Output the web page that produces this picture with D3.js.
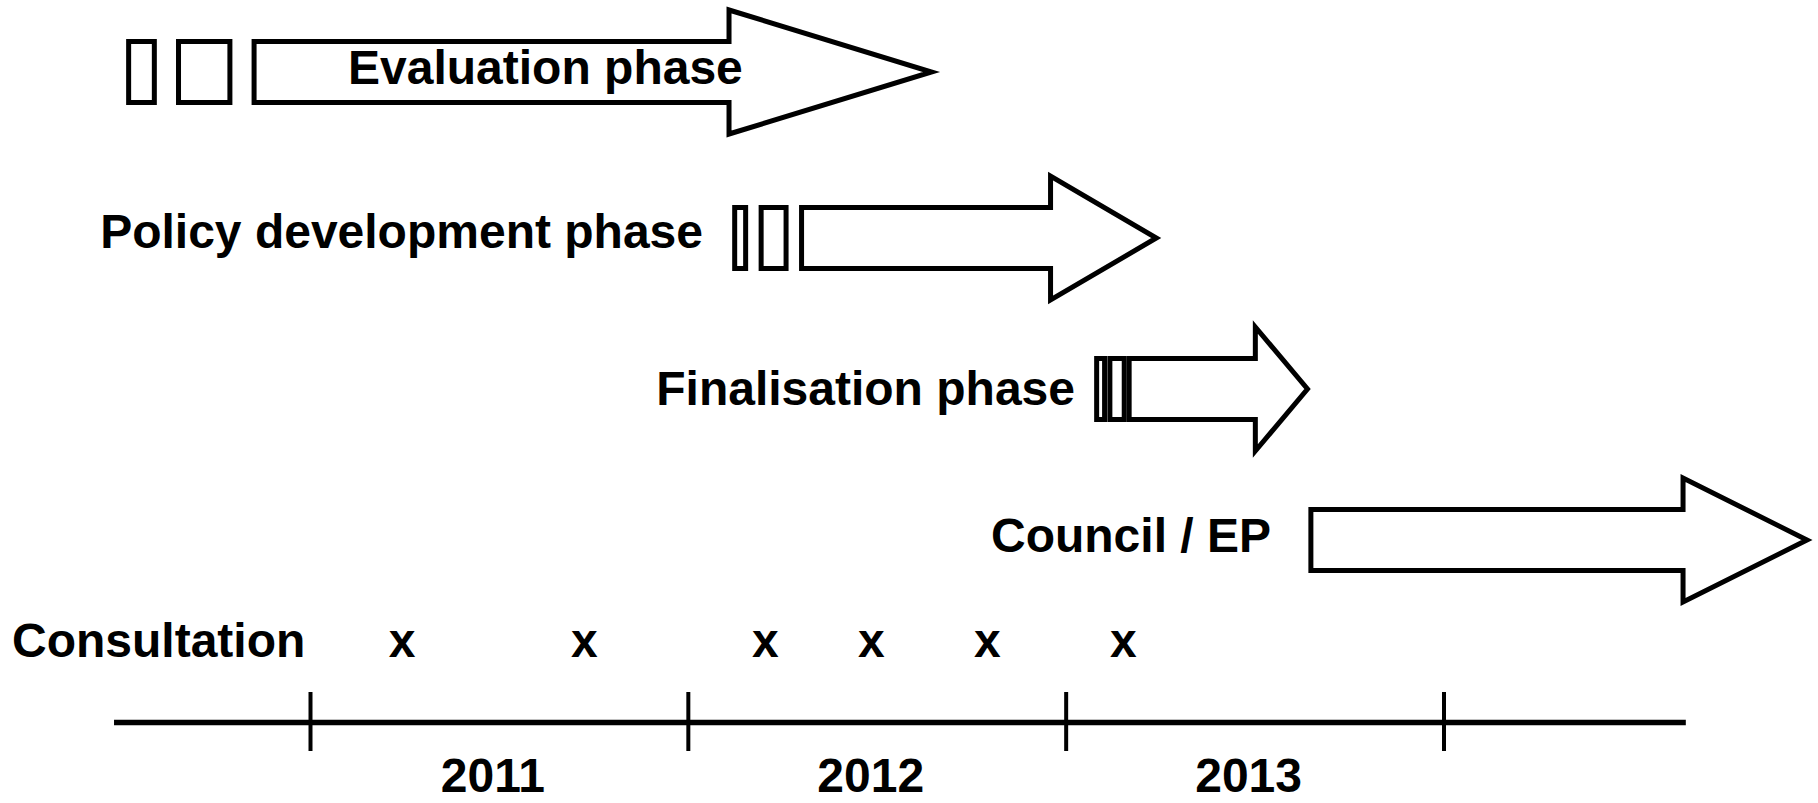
<!DOCTYPE html>
<html>
<head>
<meta charset="utf-8">
<script src="https://cdn.jsdelivr.net/npm/d3@7"></script>
<style>
    body { margin: 0; background: #fff; }
    text { font-family: "Liberation Sans", Arial, sans-serif; font-weight: bold; font-size: 48px; fill: #000; }
</style>
</head>
<body>
<svg id="chart" width="1818" height="803"></svg>
<script>
// phases of the timeline (time in decimal years)
var phaseNames = ["Evaluation phase", "Policy development phase", "Finalisation phase", "Council / EP"];
// small boxes before each arrow: [start, end]
var phaseBoxes = [
    [[2010.52, 2010.588], [2010.652, 2010.788]],
    [[2012.124, 2012.153], [2012.194, 2012.26]],
    [[2013.082, 2013.103], [2013.117, 2013.155]],
    []
];
// arrow: [body start, head base, tip]
var phaseArrows = [
    [2010.852, 2012.109, 2012.645],
    [2012.301, 2012.96, 2013.24],
    [2013.168, 2013.502, 2013.64],
    [2013.649, 2014.634, 2014.962]
];
var consultationDates = [2011.244, 2011.726, 2012.205, 2012.486, 2012.793, 2013.153];
var yearTicks = [2011, 2012, 2013, 2014];
var yearLabels = ["2011", "2012", "2013"];
var timelineExtent = [2010.48, 2014.64];

var svg = d3.select('#chart');

var x = d3.scaleLinear()
    .domain([2011, 2014])
    .range([310, 1443.5]);

// row centres
var row = d3.scaleOrdinal()
    .domain(phaseNames)
    .range([72, 238, 389, 540]);

var bodyHalf = 30.5,
    headHalf = 62;

var labelAnchor = ['start', 'end', 'end', 'end'];
var labelX = [348, 703, 1075, 1271];
var labelDy = [12, 10, 16, 12];

var phases = phaseNames.map(function (name, i) {
    return { name: name, boxes: phaseBoxes[i], arrow: phaseArrows[i], i: i };
});

var g = svg.selectAll('g.phase')
    .data(phases)
    .enter().append('g')
    .attr('class', 'phase');

g.selectAll('rect')
    .data(function (d) {
        return d.boxes.map(function (b) { return { b: b, name: d.name }; });
    })
    .enter().append('rect')
    .attr('x', d => x(d.b[0]))
    .attr('y', d => row(d.name) - bodyHalf)
    .attr('width', d => x(d.b[1]) - x(d.b[0]))
    .attr('height', bodyHalf * 2)
    .attr('fill', 'none')
    .attr('stroke', '#000')
    .attr('stroke-width', 5);

g.append('path')
    .attr('d', function (d) {
        var cy = row(d.name);
        var x0 = x(d.arrow[0]), x1 = x(d.arrow[1]), x2 = x(d.arrow[2]);
        return d3.line()([
            [x0, cy - bodyHalf], [x1, cy - bodyHalf], [x1, cy - headHalf],
            [x2, cy], [x1, cy + headHalf], [x1, cy + bodyHalf], [x0, cy + bodyHalf]
        ]) + 'Z';
    })
    .attr('fill', '#fff')
    .attr('stroke', '#000')
    .attr('stroke-width', 5)
    .attr('stroke-linejoin', 'miter');

g.append('text')
    .attr('x', d => labelX[d.i])
    .attr('y', d => row(d.name) + labelDy[d.i])
    .attr('text-anchor', d => labelAnchor[d.i])
    .text(d => d.name);

// consultation row
var consY = 657;
svg.append('text')
    .attr('x', 12)
    .attr('y', consY)
    .text('Consultation');

svg.selectAll('text.cons')
    .data(consultationDates)
    .enter().append('text')
    .attr('class', 'cons')
    .attr('x', d => x(d))
    .attr('y', consY)
    .attr('text-anchor', 'middle')
    .text('x');

// timeline axis
var axisY = 722;
var axisScale = x.copy().domain(timelineExtent).range(timelineExtent.map(x));
var axis = svg.append('g')
    .attr('transform', 'translate(0,' + axisY + ')')
    .call(d3.axisBottom(axisScale).tickValues(yearTicks).tickFormat('').tickSizeOuter(0));
axis.select('.domain')
    .attr('stroke', '#000')
    .attr('stroke-width', 5.5);
axis.selectAll('.tick line')
    .attr('y1', -30)
    .attr('y2', 29)
    .attr('stroke', '#000')
    .attr('stroke-width', 4);

svg.selectAll('text.year')
    .data(yearLabels)
    .enter().append('text')
    .attr('class', 'year')
    .attr('x', d => x(+d + 0.5) - 6)
    .attr('y', 792)
    .attr('text-anchor', 'middle')
    .text(d => d);
</script>
</body>
</html>
